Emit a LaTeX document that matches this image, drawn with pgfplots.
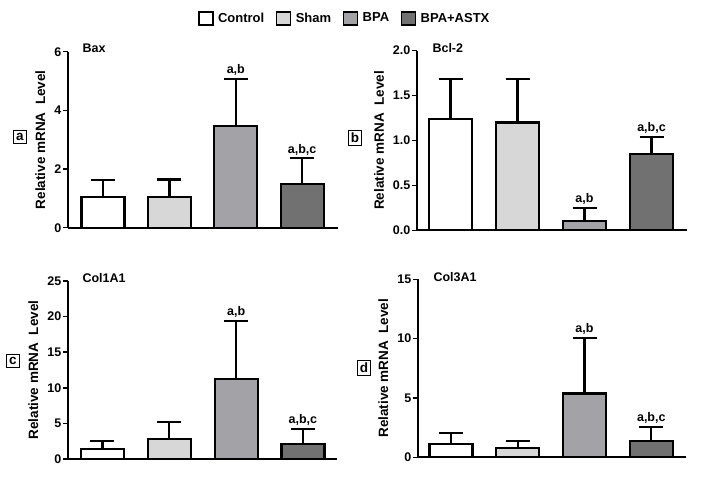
\documentclass[border=0pt]{standalone}
\usepackage{fontspec}
\setmainfont{Liberation Sans}
\usepackage{pgfplots}
\pgfplotsset{compat=1.18}
\definecolor{cctrl}{HTML}{FFFFFF}
\definecolor{csham}{HTML}{D7D7D7}
\definecolor{cbpa}{HTML}{A3A3A7}
\definecolor{castx}{HTML}{717171}
\newcommand{\tf}{\bfseries\fontsize{12.5}{14}\selectfont}
\pgfplotsset{
  panel/.style={
    scale only axis,
    axis x line*=bottom, axis y line*=left,
    axis line style={line width=1.8pt, black},
    xtick=\empty,
    tick align=outside, major tick length=5pt,
    ytick style={line width=1.5pt, black},
    ymin=0,
    /pgf/number format/assume math mode=true,
    ticklabel style={font=\tf},
    yticklabel style={inner sep=1.5pt},
    ylabel={Relative mRNA\ \ Level},
    ylabel shift=4pt,
    ylabel style={font=\bfseries\fontsize{13.5}{15}\selectfont},
    clip=false,
  },
  bar/.style={ybar, bar width=43pt, bar shift=0pt, draw=black, line width=2.2pt, fill=#1,
    error bars/.cd, y dir=plus, y explicit,
    error bar style={line width=2.2pt, black},
    error mark options={rotate=90, line width=2.2pt, black, mark size=12pt}},
}
\begin{document}
\begin{tikzpicture}[x=1pt,y=1pt]
\useasboundingbox (0,0) rectangle (703,479);
% panel a
\begin{axis}[panel, at={(68pt,251.3pt)}, anchor=south west, width=270pt, height=176pt,
  xmin=-0.528, xmax=3.54, ymax=6, ytick={0,2,4,6},
  legend image code/.code={\draw[#1] (0pt,-6.5pt) rectangle (14pt,6.5pt);},
  legend style={draw=none, legend columns=4, at={(1.024,1.19)}, anchor=center,
    font=\bfseries\fontsize{13}{15}\selectfont,
    /tikz/every even column/.append style={column sep=10pt},
    /tikz/every odd column/.append style={column sep=3pt},
    nodes={inner sep=1.5pt}},
]
\addlegendimage{fill=cctrl, draw=black, line width=1.5pt}\addlegendentry{Control}
\addlegendimage{fill=csham, draw=black, line width=1.5pt}\addlegendentry{Sham}
\addlegendimage{fill=cbpa, draw=black, line width=1.5pt}\addlegendentry{BPA}
\addlegendimage{fill=castx, draw=black, line width=1.5pt}\addlegendentry{BPA+ASTX}
\addplot[bar=cctrl] coordinates {(0,1.06) +- (0,0.57)};
\addplot[bar=csham] coordinates {(1,1.05) +- (0,0.59)};
\addplot[bar=cbpa] coordinates {(2,3.47) +- (0,1.60)};
\addplot[bar=castx] coordinates {(3,1.48) +- (0,0.89)};
\node[anchor=south, font=\tf, inner sep=3pt] at (axis cs:2,5.07) {a,b};
\node[anchor=south, font=\tf, inner sep=3pt] at (axis cs:3,2.37) {a,b,c};
\end{axis}
% panel b
\begin{axis}[panel, at={(417pt,248.7pt)}, anchor=south west, width=270pt, height=179.6pt,
  xmin=-0.5, xmax=3.53, ymax=2, ytick={0,0.5,1,1.5,2},
  yticklabel style={/pgf/number format/.cd, fixed, fixed zerofill, precision=1},
]
\addplot[bar=cctrl] coordinates {(0,1.236) +- (0,0.45)};
\addplot[bar=csham] coordinates {(1,1.20) +- (0,0.485)};
\addplot[bar=cbpa] coordinates {(2,0.107) +- (0,0.145)};
\addplot[bar=castx] coordinates {(3,0.846) +- (0,0.196)};
\node[anchor=south, font=\tf, inner sep=3pt] at (axis cs:2,0.252) {a,b};
\node[anchor=south, font=\tf, inner sep=3pt] at (axis cs:3,1.042) {a,b,c};
\end{axis}
% panel c
\begin{axis}[panel, at={(68pt,20pt)}, anchor=south west, width=269pt, height=178pt,
  xmin=-0.516, xmax=3.51, ymax=25, ytick={0,5,10,15,20,25},
]
\addplot[bar=cctrl] coordinates {(0,1.40) +- (0,1.13)};
\addplot[bar=csham] coordinates {(1,2.86) +- (0,2.34)};
\addplot[bar=cbpa] coordinates {(2,11.19) +- (0,8.19)};
\addplot[bar=castx] coordinates {(3,2.15) +- (0,2.11)};
\node[anchor=south, font=\tf, inner sep=3pt] at (axis cs:2,19.38) {a,b};
\node[anchor=south, font=\tf, inner sep=3pt] at (axis cs:3,4.26) {a,b,c};
\end{axis}
% panel d
\begin{axis}[panel, at={(418pt,21.7pt)}, anchor=south west, width=268pt, height=178pt,
  xmin=-0.494, xmax=3.52, ymax=15, ytick={0,5,10,15},
]
\addplot[bar=cctrl] coordinates {(0,1.12) +- (0,0.90)};
\addplot[bar=csham] coordinates {(1,0.76) +- (0,0.64)};
\addplot[bar=cbpa] coordinates {(2,5.37) +- (0,4.71)};
\addplot[bar=castx] coordinates {(3,1.40) +- (0,1.16)};
\node[anchor=south, font=\tf, inner sep=3pt] at (axis cs:2,10.08) {a,b};
\node[anchor=south, font=\tf, inner sep=3pt] at (axis cs:3,2.56) {a,b,c};
\end{axis}
% titles
\node[anchor=west, font=\tf] at (79,431) {Bax};
\node[anchor=west, font=\tf] at (429,431) {Bcl-2};
\node[anchor=west, font=\tf] at (79,201) {Col1A1};
\node[anchor=west, font=\tf] at (430,202) {Col3A1};
% panel letters
\node[draw, line width=1.3pt, font=\bfseries\fontsize{13.5}{15}\selectfont, inner sep=2.5pt] at (20,342) {a};
\node[draw, line width=1.3pt, font=\bfseries\fontsize{13.5}{15}\selectfont, inner sep=2.5pt] at (355,341) {b};
\node[draw, line width=1.3pt, font=\bfseries\fontsize{13.5}{15}\selectfont, inner sep=2.5pt] at (13,118) {c};
\node[draw, line width=1.3pt, font=\bfseries\fontsize{13.5}{15}\selectfont, inner sep=2.5pt] at (364,111) {d};
\end{tikzpicture}
\end{document}
